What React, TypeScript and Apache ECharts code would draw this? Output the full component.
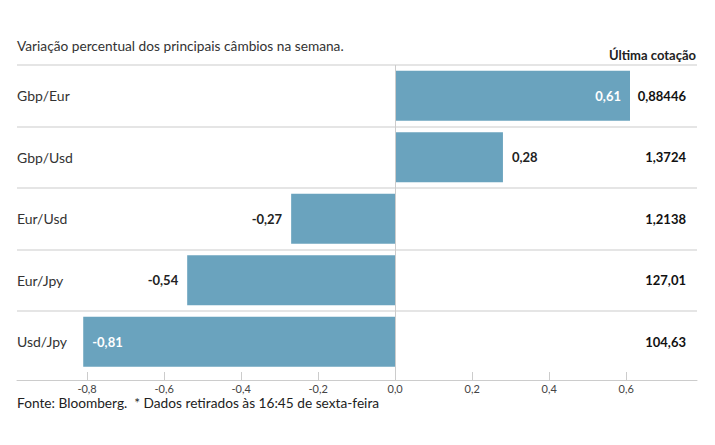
import React, { useEffect, useRef } from "react";
import * as echarts from "echarts";

const categories = ["Gbp/Eur", "Gbp/Usd", "Eur/Usd", "Eur/Jpy", "Usd/Jpy"];
const variation = [0.61, 0.28, -0.27, -0.54, -0.81];
const quotes = ["0,88446", "1,3724", "1,2138", "127,01", "104,63"];
const tickValues = [-0.8, -0.6, -0.4, -0.2, 0, 0.2, 0.4, 0.6];

const titleText = "Variação percentual dos principais câmbios na semana.";
const quoteHeader = "Última cotação";
const footerText = "Fonte: Bloomberg.  * Dados retirados às 16:45 de sexta-feira";

const FONT = "Lato, 'Noto Sans', sans-serif";
const BAR_COLOR = "#6aa3be";

const fmt = (v: number, d: number) => v.toFixed(d).replace(".", ",");

export default function App() {
  const ref = useRef<HTMLDivElement>(null);
  useEffect(() => {
    if (!ref.current) return;
    const chart = echarts.init(ref.current, undefined, { renderer: "svg" });
    const barData = variation.map((v) => {
      const inside = Math.abs(v) > 0.55;
      const pos = v >= 0 ? (inside ? "insideRight" : "right") : inside ? "insideLeft" : "left";
      return {
        value: v,
        label: {
          position: pos,
          color: inside ? "#ffffff" : "#222222",
        },
      };
    });
    chart.setOption({
      animation: false,
      textStyle: { fontFamily: FONT },
      title: [
        {
          text: titleText,
          left: 12,
          top: 33,
          textStyle: { fontFamily: FONT, fontSize: 13.7, fontWeight: "normal", color: "#333" },
        },
        {
          text: quoteHeader,
          right: 14,
          top: 43,
          textStyle: { fontFamily: FONT, fontSize: 13, fontWeight: "bold", color: "#222" },
        },
        {
          text: footerText,
          left: 12,
          top: 390,
          textStyle: {
            fontFamily: FONT,
            fontSize: 13.7,
            lineHeight: 14,
            fontWeight: "normal",
            color: "#222",
          },
        },
      ],
      grid: { left: 17, right: 18, top: 65, height: 307.5, containLabel: false },
      xAxis: {
        type: "value",
        min: -0.982,
        max: 0.784,
        offset: 7.5,
        axisLine: { show: true, lineStyle: { color: "#cccccc", width: 1 } },
        axisTick: {
          show: true,
          inside: true,
          length: 8,
          customValues: tickValues,
          lineStyle: { color: "#cccccc" },
        },
        axisLabel: {
          customValues: tickValues,
          margin: 3,
          fontSize: 11,
          lineHeight: 11,
          color: "#444",
          fontFamily: FONT,
          formatter: (v: number) => fmt(v, 1),
        },
        splitLine: { show: false },
      },
      yAxis: [
        {
          type: "category",
          data: categories,
          inverse: true,
          position: "left",
          axisLine: { show: false },
          axisTick: { show: false },
          axisLabel: { inside: true, margin: 0, fontSize: 14, color: "#333", fontFamily: FONT },
          splitLine: { show: true, showMaxLine: false, lineStyle: { color: "#dddddd", width: 1.5 } },
        },
        {
          type: "category",
          data: quotes,
          inverse: true,
          position: "right",
          axisLine: { show: false },
          axisTick: { show: false },
          axisLabel: {
            inside: true,
            margin: 11,
            fontSize: 13,
            fontWeight: "bold",
            color: "#111",
            fontFamily: FONT,
          },
          splitLine: { show: false },
        },
      ],
      series: [
        {
          type: "bar",
          yAxisIndex: 0,
          data: barData,
          barWidth: 50,
          itemStyle: { color: BAR_COLOR },
          label: {
            show: true,
            distance: 9,
            fontSize: 13,
            fontWeight: "bold",
            fontFamily: FONT,
            formatter: (p: any) => fmt(p.value, 2),
          },
          markLine: {
            silent: true,
            symbol: "none",
            label: { show: false },
            lineStyle: { color: "#cccccc", type: "solid", width: 1 },
            data: [{ xAxis: 0 }],
          },
        },
      ],
    });
    return () => chart.dispose();
  }, []);
  return (
    <div
      ref={ref}
      style={{ position: "fixed", left: 0, top: 0, width: 715, height: 445, background: "#fff" }}
    />
  );
}
